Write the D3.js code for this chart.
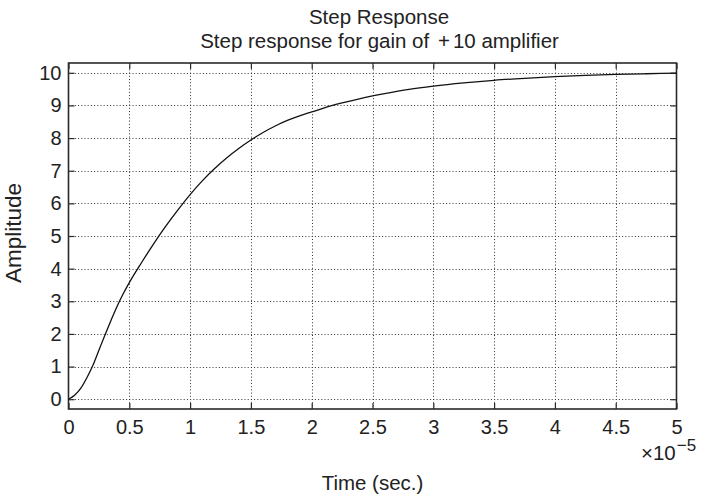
<!DOCTYPE html>
<html>
<head>
<meta charset="utf-8">
<script src="https://cdn.jsdelivr.net/npm/d3@7"></script>
<style>
  html, body { margin: 0; padding: 0; background: #fff; }
  svg text { font-family: "Liberation Sans", Arial, Helvetica, sans-serif; fill: #222; }
</style>
</head>
<body>
<svg id="chart" width="706" height="499"></svg>
<script>
// Step response of the +10 gain amplifier (time in units of 1e-5 s)
const timeVals = [0, 0.05, 0.1, 0.15, 0.2, 0.25, 0.3, 0.35, 0.4, 0.45, 0.5, 0.6, 0.7, 0.8, 0.9, 1.0,
  1.1, 1.2, 1.3, 1.4, 1.5, 1.6, 1.7, 1.8, 1.9, 2.0, 2.2, 2.4, 2.6, 2.8, 3.0,
  3.25, 3.5, 3.75, 4.0, 4.25, 4.5, 4.75, 5.0];
const amplitudeVals = [0, 0.12, 0.33, 0.65, 1.03, 1.5, 1.97, 2.42, 2.85, 3.23, 3.57, 4.18, 4.76, 5.3, 5.8, 6.27,
  6.69, 7.06, 7.39, 7.68, 7.94, 8.17, 8.37, 8.54, 8.68, 8.8, 9.03, 9.21, 9.36, 9.49, 9.59,
  9.69, 9.77, 9.83, 9.88, 9.92, 9.95, 9.97, 9.99];
const xTicks = [0, 0.5, 1, 1.5, 2, 2.5, 3, 3.5, 4, 4.5, 5];
const yTicks = [0, 1, 2, 3, 4, 5, 6, 7, 8, 9, 10];

const svg = d3.select("#chart");
const m = { left: 68.5, right: 676.5, top: 63, bottom: 409 };

const x = d3.scaleLinear().domain([0, 5]).range([m.left, m.right]);
const y = d3.scaleLinear().domain([-0.3, 10.3]).range([m.bottom, m.top]);

const axisColor = "#2a2a2a";
const tickLen = 6;

// dotted grid
const grid = svg.append("g").attr("stroke", "#333").attr("stroke-width", 1)
  .attr("stroke-dasharray", "1,2.2");
grid.selectAll("line.gx").data(xTicks.slice(1, -1)).join("line")
  .attr("x1", d => Math.round(x(d)) + 0.5).attr("x2", d => Math.round(x(d)) + 0.5)
  .attr("y1", m.top).attr("y2", m.bottom);
grid.selectAll("line.gy").data(yTicks).join("line")
  .attr("y1", d => Math.round(y(d)) + 0.5).attr("y2", d => Math.round(y(d)) + 0.5)
  .attr("x1", m.left).attr("x2", m.right);

// axes with inward ticks on all four sides
const fontTick = "20px";
const gB = svg.append("g").attr("transform", `translate(0,${m.bottom})`)
  .call(d3.axisBottom(x).tickValues(xTicks).tickSizeInner(-tickLen).tickSizeOuter(0)
    .tickPadding(11).tickFormat(d3.format("~g")));
const gT = svg.append("g").attr("transform", `translate(0,${m.top})`)
  .call(d3.axisTop(x).tickValues(xTicks).tickSizeInner(-tickLen).tickSizeOuter(0)
    .tickFormat(""));
const gL = svg.append("g").attr("transform", `translate(${m.left},0)`)
  .call(d3.axisLeft(y).tickValues(yTicks).tickSizeInner(-tickLen).tickSizeOuter(0)
    .tickPadding(7).tickFormat(d3.format("d")));
const gR = svg.append("g").attr("transform", `translate(${m.right},0)`)
  .call(d3.axisRight(y).tickValues(yTicks).tickSizeInner(-tickLen).tickSizeOuter(0)
    .tickFormat(""));

[gB, gT, gL, gR].forEach(g => {
  g.select(".domain").remove();
  g.selectAll(".tick line").attr("stroke", axisColor).attr("stroke-width", 1.2);
  g.selectAll(".tick text").attr("fill", "#222").style("font-size", fontTick)
    .style("font-family", '"Liberation Sans", Arial, sans-serif');
});
gB.selectAll(".tick text").attr("dy", "0.71em");

// box
svg.append("rect").attr("x", m.left).attr("y", m.top)
  .attr("width", m.right - m.left).attr("height", m.bottom - m.top)
  .attr("fill", "none").attr("stroke", axisColor).attr("stroke-width", 1.6);

// response curve
const pts = timeVals.map((t, i) => [t, amplitudeVals[i]]);
svg.append("path").datum(pts)
  .attr("fill", "none").attr("stroke", "#111").attr("stroke-width", 1.3)
  .attr("stroke-linejoin", "round")
  .attr("d", d3.line().x(d => x(d[0])).y(d => y(d[1])).curve(d3.curveMonotoneX));

// titles
svg.append("text").attr("x", 379).attr("y", 24).attr("text-anchor", "middle")
  .style("font-size", "20.5px").text("Step Response");
const t2 = svg.append("text").attr("x", 379.5).attr("y", 48).attr("text-anchor", "middle")
  .style("font-size", "20.5px");
t2.append("tspan").text("Step response for gain of ");
t2.append("tspan").attr("dx", "3").text("+");
t2.append("tspan").attr("dx", "3").text("10 amplifier");

// axis labels
svg.append("text").attr("x", (m.left + m.right) / 2).attr("y", 490)
  .attr("text-anchor", "middle").style("font-size", "20.5px").text("Time (sec.)");
svg.append("text").attr("transform", `translate(21,${(m.top + m.bottom) / 2 - 3}) rotate(-90)`)
  .attr("text-anchor", "middle").style("font-size", "22.5px").text("Amplitude");

// exponent
const ex = svg.append("text").attr("x", 641).attr("y", 460).style("font-size", "20.5px");
ex.append("tspan").text("×10");
ex.append("tspan").attr("dy", "-9").attr("dx", "1").style("font-size", "17px").text("−5");
</script>
</body>
</html>
